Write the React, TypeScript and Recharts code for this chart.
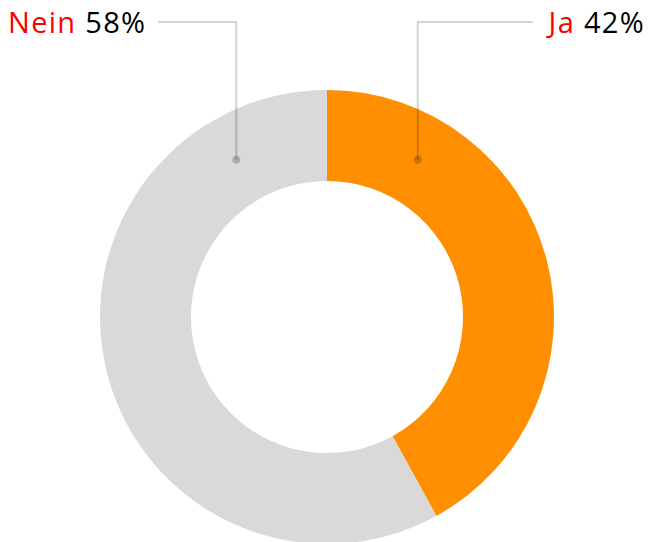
import { PieChart, Pie, Cell } from 'recharts';

const names = ['Ja', 'Nein'];
const values = [42, 58];
const colors = ['#ff8f00', '#d9d9d9'];

const data = names.map((name, i) => ({ name, value: values[i], fill: colors[i] }));

const W = 648;
const H = 542;
const LABEL_Y = 22;

// eslint-disable-next-line @typescript-eslint/no-explicit-any
function renderLabel(props: any) {
  const { cx, cy, innerRadius, outerRadius, index, payload } = props;
  const right = index === 0;
  const r = (innerRadius + outerRadius) / 2;
  const ang = ((right ? 60 : 120) * Math.PI) / 180;
  const dx = cx + r * Math.cos(ang);
  const dy = cy - r * Math.sin(ang);
  const lineEnd = right ? 533 : 158;
  const textX = right ? W - 3 : 8;
  return (
    <g>
      <polyline points={`${dx},${dy} ${dx},${LABEL_Y} ${lineEnd},${LABEL_Y}`}
        fill="none" stroke="rgba(0,0,0,0.18)" strokeWidth={2} />
      <circle cx={dx} cy={dy} r={4} fill="rgba(0,0,0,0.2)" />
      <text x={textX} y={LABEL_Y + 11} textAnchor={right ? 'end' : 'start'}
        style={{ fontFamily: '"Open Sans", sans-serif', fontSize: 29, letterSpacing: 1.3 }}>
        <tspan fill="#ff0000">{payload.name}</tspan>
        <tspan fill="#000"> {payload.value}%</tspan>
      </text>
    </g>
  );
}

export default function App() {
  return (
    <div style={{ position: 'absolute', left: 0, top: 0, width: W, height: H, background: '#fff' }}>
      <PieChart width={W} height={H} margin={{ top: 0, right: 0, bottom: 0, left: 0 }}>
        <Pie data={data} dataKey="value" nameKey="name" cx={327} cy={317}
          innerRadius={136} outerRadius={227} startAngle={90} endAngle={-270}
          stroke="none" isAnimationActive={false} label={renderLabel} labelLine={false}>
          {data.map((d, i) => <Cell key={i} fill={d.fill} />)}
        </Pie>
      </PieChart>
    </div>
  );
}
